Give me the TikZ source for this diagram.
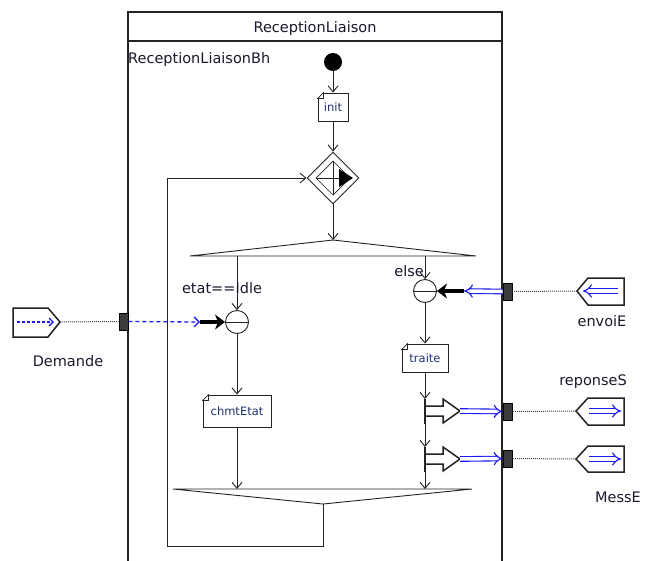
\documentclass[tikz,border=0pt]{standalone}
\usepackage{fontspec}
\setmainfont{DejaVu Sans}
\usetikzlibrary{arrows.meta,shapes.geometric}
\definecolor{ink}{RGB}{35,35,35}
\definecolor{sigblue}{RGB}{25,25,240}
\definecolor{acttext}{RGB}{30,50,110}
\definecolor{lbl}{RGB}{25,25,45}
\definecolor{portfill}{RGB}{60,60,60}
\begin{document}
\begin{tikzpicture}[x=1pt,y=-1pt,
  lab/.style={font=\fontsize{14.5}{17}\selectfont, text=lbl, inner sep=0},
  act/.style={draw=ink, line width=0.9pt, fill=white, inner sep=0, font=\fontsize{11.5}{13}\selectfont, text=acttext},
  flow/.style={draw=ink, line width=0.9pt, -{Straight Barb[length=6pt,width=10pt]}},
  accept/.style={circle, draw=ink, line width=0.9pt, fill=white, minimum size=23pt, inner sep=0,
    path picture={\draw[ink, line width=0.7pt] (path picture bounding box.west) -- (path picture bounding box.east);}},
  port/.style={rectangle, draw=black, fill=portfill, line width=0.8pt, minimum width=9pt, minimum height=17pt, inner sep=0},
  sig/.style={draw=sigblue, double=white, double distance=3.5pt, line width=1.1pt, -{Implies[length=6pt,width=13pt]}},
  dashsig/.style={draw=sigblue, line width=1.3pt, dash pattern=on 4pt off 3pt, -{Straight Barb[length=5pt,width=10pt]}},
  evin/.style={draw=black, line width=3.5pt, -{Stealth[length=10pt,width=15pt,inset=3pt]}},
  dotl/.style={draw=ink!85, line width=1pt, dash pattern=on 1pt off 1pt},
  penta/.style={draw=ink, line width=1.5pt, fill=white},
  sendline/.style={draw=ink, line width=1.5pt, fill=white, line join=miter},
  partline/.style={draw=ink, line width=0.9pt}
]
\useasboundingbox (0,0) rectangle (645,560);
\fill[white] (0,0) rectangle (645,560);

% outer partition box
\draw[ink, line width=1.3pt] (128,566) -- (128,12) -- (502,12) -- (502,566);
\draw[ink, line width=1.3pt] (128,41) -- (502,41);
\node[lab, anchor=base] (title) at (315,32) {ReceptionLiaison};
\node[lab, anchor=base west] (bh) at (128,63) {ReceptionLiaisonBh};

% start
\node[circle, fill=black, minimum size=18pt, inner sep=0] (start) at (333,62) {};
\node[act, minimum width=30pt, minimum height=28pt] (init) at (333,107) {init};

% decision / merge node
\node[diamond, draw=ink, line width=0.9pt, fill=white, minimum width=52pt, minimum height=52pt, inner sep=0] (dec) at (333,178) {};
\draw[ink, line width=0.7pt] (333,161) -- (350,178) -- (333,195) -- (316,178) -- cycle;
\draw[ink, line width=0.9pt] (333,161) -- (333,195);
\draw[ink, line width=0.9pt] (316,178) -- (340,178);
\fill[black] (339,169) -- (353,178) -- (339,187) -- cycle;

% fork
\draw[partline, fill=white] (190,256) -- (333,240) -- (476,256) -- cycle;
\coordinate (forkTop) at (333,240);
\coordinate (forkL) at (237,256);
\coordinate (forkR) at (425,256);

% join
\draw[partline, fill=white] (173,489) -- (472,489) -- (323,504) -- cycle;
\coordinate (mergeL) at (237,489);
\coordinate (mergeR) at (425,489);
\coordinate (mergeBot) at (323,504);

% accept events
\node[accept] (accL) at (237,322) {};
\node[accept] (accR) at (425,291) {};

% actions
\node[act, minimum width=68pt, minimum height=32pt] (chmt) at (237,411) {chmtEtat};
\node[act, minimum width=46pt, minimum height=28pt] (traite) at (425,358) {traite};
\foreach \n in {init,chmt,traite}{
  \fill[white] ([xshift=-1pt,yshift=1pt]\n.north west) -- ([xshift=6pt]\n.north west) -- ([yshift=-6pt]\n.north west) -- cycle;
  \draw[ink, line width=0.8pt, line join=round] ([xshift=6pt]\n.north west) -- ([yshift=-6pt]\n.north west) -- ([xshift=6pt,yshift=-6pt]\n.north west) -- cycle;
}

% send signal actions
\draw[sendline] (425,406) -- (443,406) -- (443,399) -- (460,411) -- (443,423) -- (443,416) -- (425,416);
\draw[sendline] (425,399) -- (425,424);
\coordinate (s1top) at (425,399);
\coordinate (s1bot) at (425,424);
\coordinate (s1tip) at (460,411);
\draw[sendline] (425,454) -- (443,454) -- (443,447) -- (460,459) -- (443,471) -- (443,464) -- (425,464);
\draw[sendline] (425,447) -- (425,472);
\coordinate (s2top) at (425,447);
\coordinate (s2bot) at (425,472);
\coordinate (s2tip) at (460,459);

% flows
\draw[flow] (start.south) -- (init.north);
\draw[flow] (init.south) -- (dec.north);
\draw[flow] (dec.south) -- (forkTop);
\draw[flow] (forkL) -- (accL.north);
\draw[flow] (accL.south) -- (chmt.north);
\draw[flow] (chmt.south) -- (mergeL);
\draw[flow] (forkR) -- (accR.north);
\draw[flow] (accR.south) -- (traite.north);
\draw[flow] (traite.south) -- (s1top);
\draw[flow] (s1bot) -- (s2top);
\draw[flow] (s2bot) -- (mergeR);
\draw[flow] (mergeBot) -- (323,546) -- (167,546) -- (167,178) -- (dec.west);

% guards
\node[lab, anchor=base] (g1) at (222,293) {etat==Idle};
\node[lab, anchor=base east] (g2) at (424,276) {else};

% ports
\node[port] (pL) at (123.5,321.5) {};
\node[port] (pR0) at (507.5,291.5) {};
\node[port] (pR1) at (507.5,411.5) {};
\node[port] (pR2) at (507.5,458.5) {};

% external pins
\draw[penta] (13,308) -- (48,308) -- (60,322) -- (48,337) -- (13,337) -- cycle;
\coordinate (demTip) at (60,322);
\draw[sigblue, line width=1.3pt, dash pattern=on 3pt off 2pt, -{Straight Barb[length=4pt,width=8pt]}] (17,322) -- (54,322);
\draw[penta] (577,291) -- (588,278) -- (624,278) -- (624,305) -- (588,305) -- cycle;
\coordinate (envTip) at (577,291);
\draw[sig] (618,291) -- (583,291);
\draw[penta] (576,411) -- (588,398) -- (624,398) -- (624,425) -- (588,425) -- cycle;
\coordinate (repTip) at (576,411);
\draw[sig] (589,411) -- (621,411);
\draw[penta] (576,459) -- (588,446) -- (624,446) -- (624,472) -- (588,472) -- cycle;
\coordinate (mesTip) at (576,459);
\draw[sig] (589,459) -- (621,459);

\draw[dotl] (demTip) -- (pL.west);
\draw[dotl] (envTip) -- (pR0.east);
\draw[dotl] (repTip) -- (pR1.east);
\draw[dotl] (mesTip) -- (pR2.east);

% signal connectors
\coordinate (aL) at (200,322);
\coordinate (aR) at (464,291);
\draw[dashsig] (pL.east) -- (aL);
\draw[evin] (aL) -- (accL.west);
\draw[sig] (pR0.west) -- (aR);
\draw[evin] (aR) -- (accR.east);
\draw[sig] (s1tip) -- (pR1.west);
\draw[sig] (s2tip) -- (pR2.west);

% pin labels
\node[lab, anchor=base] (lDem) at (68,366) {Demande};
\node[lab, anchor=base] (lEnv) at (602,326) {envoiE};
\node[lab, anchor=base] (lRep) at (593,385) {reponseS};
\node[lab, anchor=base] (lMes) at (618,502) {MessE};
\end{tikzpicture}
\end{document}
